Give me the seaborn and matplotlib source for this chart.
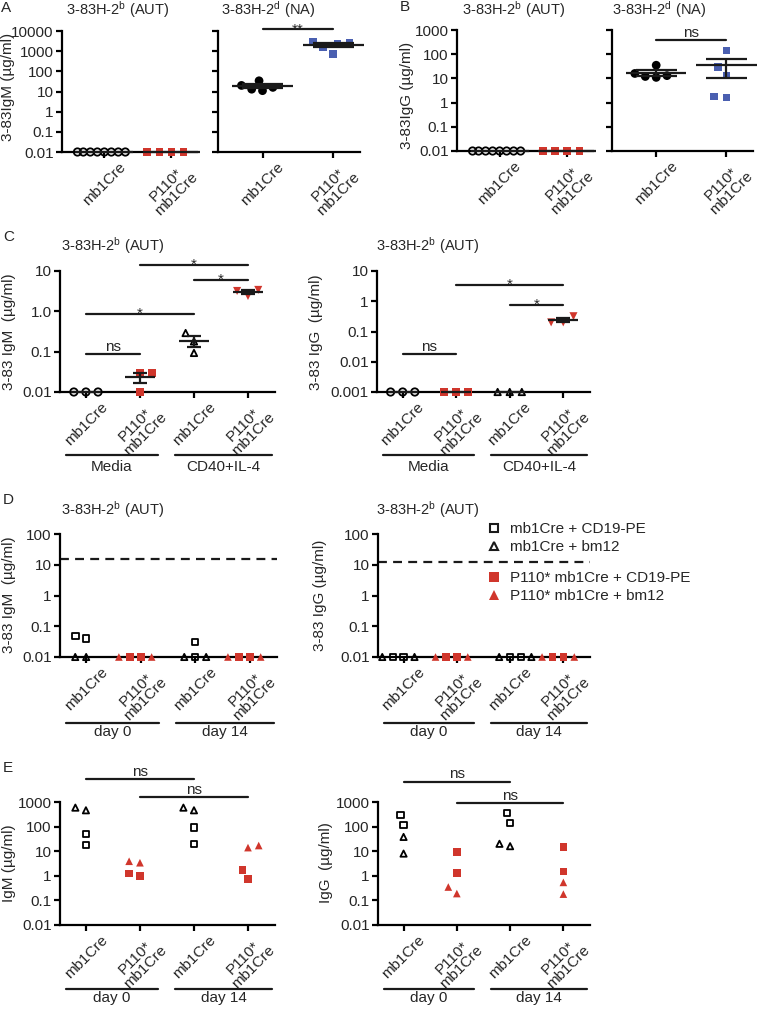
import warnings
import numpy as np
import pandas as pd
import matplotlib
matplotlib.use("Agg")
import matplotlib.pyplot as plt
import matplotlib.transforms as mtransforms
from matplotlib.lines import Line2D
from matplotlib.markers import MarkerStyle
from matplotlib.ticker import NullLocator
import seaborn as sns

warnings.filterwarnings("ignore")

# --------------------------
# Data (ug/ml)
# --------------------------
# A: 3-83 IgM, B: 3-83 IgG in H-2b (AUT) and H-2d (NA) mice
ab_groups = ["mb1Cre", "P110"]
a_aut_mb1 = [0.01] * 8
a_aut_p110 = [0.01] * 4
a_na_mb1 = [34, 16, 11, 13, 20]
a_na_p110 = [2600, 2400, 700, 3000, 1500]
b_aut_mb1 = [0.01] * 8
b_aut_p110 = [0.01] * 4
b_na_mb1 = [35, 12, 11, 13, 16]
b_na_p110 = [142, 29, 13, 1.6, 1.8]

# C: in vitro culture (Media / CD40+IL-4)
c_groups = ["mb1Cre media", "P110 media", "mb1Cre cd40", "P110 cd40"]
c_igm = [[0.01, 0.01, 0.01], [0.03, 0.03, 0.01], [0.29, 0.18, 0.093], [3.4, 2.4, 3.2]]
c_igg = [[0.001, 0.001, 0.001], [0.001, 0.001, 0.001], [0.001, 0.001, 0.001], [0.32, 0.2, 0.2]]

# D / E: day 0 and day 14, squares = CD19-PE, triangles = bm12
de_groups = ["mb1Cre d0", "P110 d0", "mb1Cre d14", "P110 d14"]
d_igm_sq = [[0.048, 0.04], [0.01, 0.01], [0.01, 0.03], [0.01, 0.01]]
d_igm_tri = [[0.01, 0.01], [0.01, 0.01], [0.01, 0.01], [0.01, 0.01]]
d_igg_sq = [[0.01, 0.01], [0.01, 0.01], [0.01, 0.01], [0.01, 0.01]]
d_igg_tri = [[0.01, 0.01], [0.01, 0.01], [0.01, 0.01], [0.01, 0.01]]
d_ref_igm = 15
d_ref_igg = 12
e_igm_sq = [[17.5, 50], [1.0, 1.25], [91, 20], [0.76, 1.75]]
e_igm_tri = [[590, 460], [3.9, 3.4], [460, 590], [17, 14]]
e_igg_sq = [[113, 288], [9.4, 1.3], [346, 136], [14.5, 1.5]]
e_igg_tri = [[38, 8], [0.35, 0.19], [16, 20], [0.54, 0.18]]

ab_labels = ["mb1Cre", "P110*\nmb1Cre"]
four_labels = ["mb1Cre", "P110*\nmb1Cre", "mb1Cre", "P110*\nmb1Cre"]
title_aut = "3-83H-2$^{b}$ (AUT)"
title_na = "3-83H-2$^{d}$ (NA)"

RED = "#d0362c"
BLUE = "#4a5fb0"
W, H = 763, 1009
OPEN_LW = 1.3

sns.set_theme(style="ticks")
plt.rcParams["font.family"] = ["Liberation Sans", "DejaVu Sans"]
plt.rcParams["mathtext.default"] = "regular"
plt.rcParams["font.size"] = 11

fig = plt.figure(figsize=(W / 100, H / 100), dpi=100)
fig.patch.set_facecolor("white")


def px_axes(l, t, r, b):
    ax = fig.add_axes([l / W, 1 - b / H, (r - l) / W, (b - t) / H])
    ax.set_yscale("log")
    return ax


def ftext(x, y, s, **kw):
    fig.text(x / W, 1 - y / H, s, **kw)


def marker_path(m, k=1.0):
    ms = MarkerStyle(m)
    return ms.get_path().transformed(ms.get_transform() + mtransforms.Affine2D().scale(k))


def swarm(ax, vals, order, group, marker, color, filled, size, spacing, markers=None):
    # the swarm packs points by `spacing` (pt); drawn markers are `size` (pt)
    sub = pd.DataFrame({"group": group, "value": vals})
    lw = 0 if filled else OPEN_LW
    s_sw = spacing - lw
    n0 = len(ax.collections)
    if filled:
        kw = dict(color=color, edgecolor="none", linewidth=0)
    else:
        kw = dict(facecolor="none", edgecolor=color, linewidth=lw)
    sns.swarmplot(data=sub, x="group", y="value", order=order, ax=ax,
                  marker=marker, size=s_sw, clip_on=False, zorder=3, **kw)
    mks = markers if markers is not None else [marker] * len(sub)
    for coll in list(ax.collections[n0:]):
        if len(coll.get_offsets()) == 0:
            coll.remove()
        else:
            coll.set_paths([marker_path(m, size / s_sw) for m in mks])


def mean_sem(ax, pos, vals, half, cap):
    v = np.asarray(vals, float)
    m = v.mean()
    s = v.std(ddof=1) / np.sqrt(len(v))
    ax.hlines(m, pos - half, pos + half, color="k", lw=1.6, zorder=4, clip_on=False)
    if s > 0:
        ax.vlines(pos, m - s, m + s, color="k", lw=1.6, zorder=4, clip_on=False)
        ax.hlines([m - s, m + s], pos - cap, pos + cap, color="k", lw=1.6, zorder=4, clip_on=False)


def style(ax, ylim, yticks, ylabels, xlim, xlabels):
    ax.set_ylim(*ylim)
    ax.set_yticks(yticks)
    ax.set_yticklabels(ylabels)
    ax.yaxis.set_minor_locator(NullLocator())
    ax.set_xlim(*xlim)
    ax.set_xticks(range(len(xlabels)))
    ax.set_xticklabels(xlabels, rotation=45, ha="center", va="top", ma="center",
                       linespacing=1.0, fontsize=11)
    ax.set_xlabel("")
    ax.set_ylabel("")
    for s in ("top", "right"):
        ax.spines[s].set_visible(False)
    for s in ("left", "bottom"):
        ax.spines[s].set_linewidth(1.6)
        ax.spines[s].set_color("black")
    ax.tick_params(axis="both", which="major", length=4, width=1.6, color="black",
                   labelsize=11, pad=2)
    ax.patch.set_visible(False)


def bracket(ax, x0, x1, y, label, fs=11, dy=2.5):
    tr = mtransforms.blended_transform_factory(ax.transData, ax.transAxes)
    ax.plot([x0, x1], [y, y], color="k", lw=1.6, transform=tr, clip_on=False)
    ax.annotate(label, xy=((x0 + x1) / 2, y), xycoords=tr, xytext=(0, dy),
                textcoords="offset points", ha="center", va="baseline", fontsize=fs)


def group_labels(ax, names, spans, line_y, text_y):
    tr = mtransforms.blended_transform_factory(ax.transData, ax.transAxes)
    for name, (x0, x1) in zip(names, spans):
        ax.plot([x0, x1], [line_y, line_y], color="k", lw=1.6, transform=tr, clip_on=False)
        ax.text((x0 + x1) / 2, text_y, name, transform=tr, ha="center", va="top", fontsize=11)


# --------------------------
# Panels A and B
# --------------------------
ab_xlim = (-0.63, 1.38)
panels_ab = [
    ((62, 31, 197, 152), a_aut_mb1, a_aut_p110, RED, False),
    ((218, 31, 360, 152), a_na_mb1, a_na_p110, BLUE, True),
    ((457, 30, 593, 151), b_aut_mb1, b_aut_p110, RED, False),
    ((612, 30, 753, 151), b_na_mb1, b_na_p110, BLUE, True),
]
ab_axes = []
for rect, mb1, p110, col, filled_mb1 in panels_ab:
    ax = px_axes(*rect)
    if filled_mb1:
        swarm(ax, mb1, ab_groups, "mb1Cre", "o", "black", True, 6.3, 7.5)
    else:
        swarm(ax, mb1, ab_groups, "mb1Cre", "o", "black", False, 5.3, 4.8)
    swarm(ax, p110, ab_groups, "P110", "s", col, True, 5.5, 8.3)
    mean_sem(ax, 0, mb1, 0.43, 0.29)
    mean_sem(ax, 1, p110, 0.43, 0.29)
    ab_axes.append(ax)

a_ticks = [0.01, 0.1, 1, 10, 100, 1000, 10000]
a_tlabels = ["0.01", "0.1", "1", "10", "100", "1000", "10000"]
style(ab_axes[0], (0.01, 10000), a_ticks, a_tlabels, ab_xlim, ab_labels)
style(ab_axes[1], (0.01, 10000), a_ticks, [""] * 7, ab_xlim, ab_labels)
b_ticks = a_ticks[:-1]
b_tlabels = a_tlabels[:-1]
style(ab_axes[2], (0.01, 1000), b_ticks, b_tlabels, ab_xlim, ab_labels)
style(ab_axes[3], (0.01, 1000), b_ticks, [""] * 6, ab_xlim, ab_labels)
bracket(ab_axes[1], 0, 1, 1.014, "**", fs=11, dy=-3)
bracket(ab_axes[3], 0, 1, 0.917, "ns")

# --------------------------
# Panel C
# --------------------------
c_style = [("o", "black", False, 5.3), ("s", RED, True, 5.5),
           ("^", "black", False, 4.6), ("v", RED, True, 5.8)]
four_xlim = (-0.48, 3.5)
c1 = px_axes(60, 271, 275, 392)
c2 = px_axes(377, 271, 590, 392)
for ax, data in ((c1, c_igm), (c2, c_igg)):
    for i, (g, vals) in enumerate(zip(c_groups, data)):
        mk, col, filled, sz = c_style[i]
        swarm(ax, vals, c_groups, g, mk, col, filled, sz, 8.3)
        mean_sem(ax, i, vals, 0.28, 0.13)
style(c1, (0.01, 10), [0.01, 0.1, 1, 10], ["0.01", "0.1", "1.0", "10"], four_xlim, four_labels)
style(c2, (0.001, 10), [0.001, 0.01, 0.1, 1, 10], ["0.001", "0.01", "0.1", "1", "10"],
      four_xlim, four_labels)
bracket(c1, 0, 1, 0.314, "ns")
bracket(c1, 0, 2, 0.645, "*", dy=-3)
bracket(c1, 2, 3, 0.926, "*", dy=-3)
bracket(c1, 1, 3, 1.05, "*", dy=-3)
bracket(c2, 0, 1, 0.314, "ns")
bracket(c2, 2, 3, 0.719, "*", dy=-3)
bracket(c2, 1, 3, 0.884, "*", dy=-3)
spans = [(-0.37, 1.33), (1.65, 3.45)]
for ax in (c1, c2):
    group_labels(ax, ["Media", "CD40+IL-4"], spans, -0.52, -0.56)

# --------------------------
# Panels D and E
# --------------------------
de_color = [("black", False, 4.5), (RED, True, 5.5), ("black", False, 4.5), (RED, True, 5.5)]


def draw_de(ax, sq, tri):
    for i, g in enumerate(de_groups):
        col, filled, sz = de_color[i]
        vals = list(sq[i]) + list(tri[i])
        mks = ["s"] * len(sq[i]) + ["^"] * len(tri[i])
        swarm(ax, vals, de_groups, g, "s", col, filled, sz, 7.5, markers=mks)


d1 = px_axes(60, 534, 277, 657)
d2 = px_axes(378, 534, 590, 657)
draw_de(d1, d_igm_sq, d_igm_tri)
draw_de(d2, d_igg_sq, d_igg_tri)
d1.axhline(d_ref_igm, color="k", lw=1.6, ls=(0, (4, 2.8)), clip_on=False)
d2.axhline(d_ref_igg, color="k", lw=1.6, ls=(0, (4, 2.8)), clip_on=False)
d_ticks = [0.01, 0.1, 1, 10, 100]
d_tlabels = ["0.01", "0.1", "1", "10", "100"]
style(d1, (0.01, 100), d_ticks, d_tlabels, four_xlim, four_labels)
style(d2, (0.01, 100), d_ticks, d_tlabels, four_xlim, four_labels)

e1 = px_axes(60, 802, 275, 925)
e2 = px_axes(378, 802, 590, 925)
draw_de(e1, e_igm_sq, e_igm_tri)
draw_de(e2, e_igg_sq, e_igg_tri)
e_ticks = [0.01, 0.1, 1, 10, 100, 1000]
e_tlabels = ["0.01", "0.1", "1", "10", "100", "1000"]
style(e1, (0.01, 1000), e_ticks, e_tlabels, four_xlim, four_labels)
style(e2, (0.01, 1000), e_ticks, e_tlabels, four_xlim, four_labels)
bracket(e1, 0, 2, 1.187, "ns")
bracket(e1, 1, 3, 1.04, "ns")
bracket(e2, 0, 2, 1.163, "ns")
bracket(e2, 1, 3, 0.99, "ns")
for ax in (d1, d2):
    group_labels(ax, ["day 0", "day 14"], spans, -0.537, -0.553)
for ax in (e1, e2):
    group_labels(ax, ["day 0", "day 14"], spans, -0.52, -0.537)

# legend of panel D
open_kw = dict(ls="none", ms=6, mfc="none", mec="k", mew=1.5)
red_kw = dict(ls="none", ms=6.5, mfc=RED, mec=RED, mew=0)
leg_kw = dict(loc="upper left", frameon=False, fontsize=11, handlelength=0.6,
              handletextpad=0.75, borderpad=0, borderaxespad=0, labelspacing=0.29,
              bbox_transform=fig.transFigure)
leg1 = d2.legend(handles=[Line2D([], [], marker="s", label="mb1Cre + CD19-PE", **open_kw),
                          Line2D([], [], marker="^", label="mb1Cre + bm12", **open_kw)],
                 bbox_to_anchor=(489.4 / W, 1 - 522 / H), **leg_kw)
d2.add_artist(leg1)
d2.legend(handles=[Line2D([], [], marker="s", label="P110* mb1Cre + CD19-PE", **red_kw),
                   Line2D([], [], marker="^", label="P110* mb1Cre + bm12", **red_kw)],
          bbox_to_anchor=(489.4 / W, 1 - 571 / H), **leg_kw)

# --------------------------
# Letters, titles, y labels
# --------------------------
for letter, x, y in [("A", 1, 8), ("B", 400, 7), ("C", 3, 237), ("D", 3, 500), ("E", 3, 768)]:
    ftext(x, y, letter, ha="left", va="center", fontsize=11)

for s, x, y in [(title_aut, 118, 10), (title_na, 268, 10), (title_aut, 514, 10),
                (title_na, 659, 10), (title_aut, 113, 246), (title_aut, 428, 246),
                (title_aut, 113, 510), (title_aut, 428, 510)]:
    ftext(x, y, s, ha="center", va="center", fontsize=10.5)

for s, x, y in [("3-83IgM (µg/ml)", 8, 87), ("3-83IgG (µg/ml)", 407, 95),
                ("3-83 IgM  (µg/ml)", 9, 332), ("3-83 IgG  (µg/ml)", 316, 332),
                ("3-83 IgM  (µg/ml)", 9, 595), ("3-83 IgG (µg/ml)", 320, 595),
                ("IgM (µg/ml)", 9, 863), ("IgG  (µg/ml)", 326, 863)]:
    ftext(x, y, s, ha="center", va="center", rotation=90, fontsize=11)

fig.savefig("out.png", dpi=100, facecolor="white")
